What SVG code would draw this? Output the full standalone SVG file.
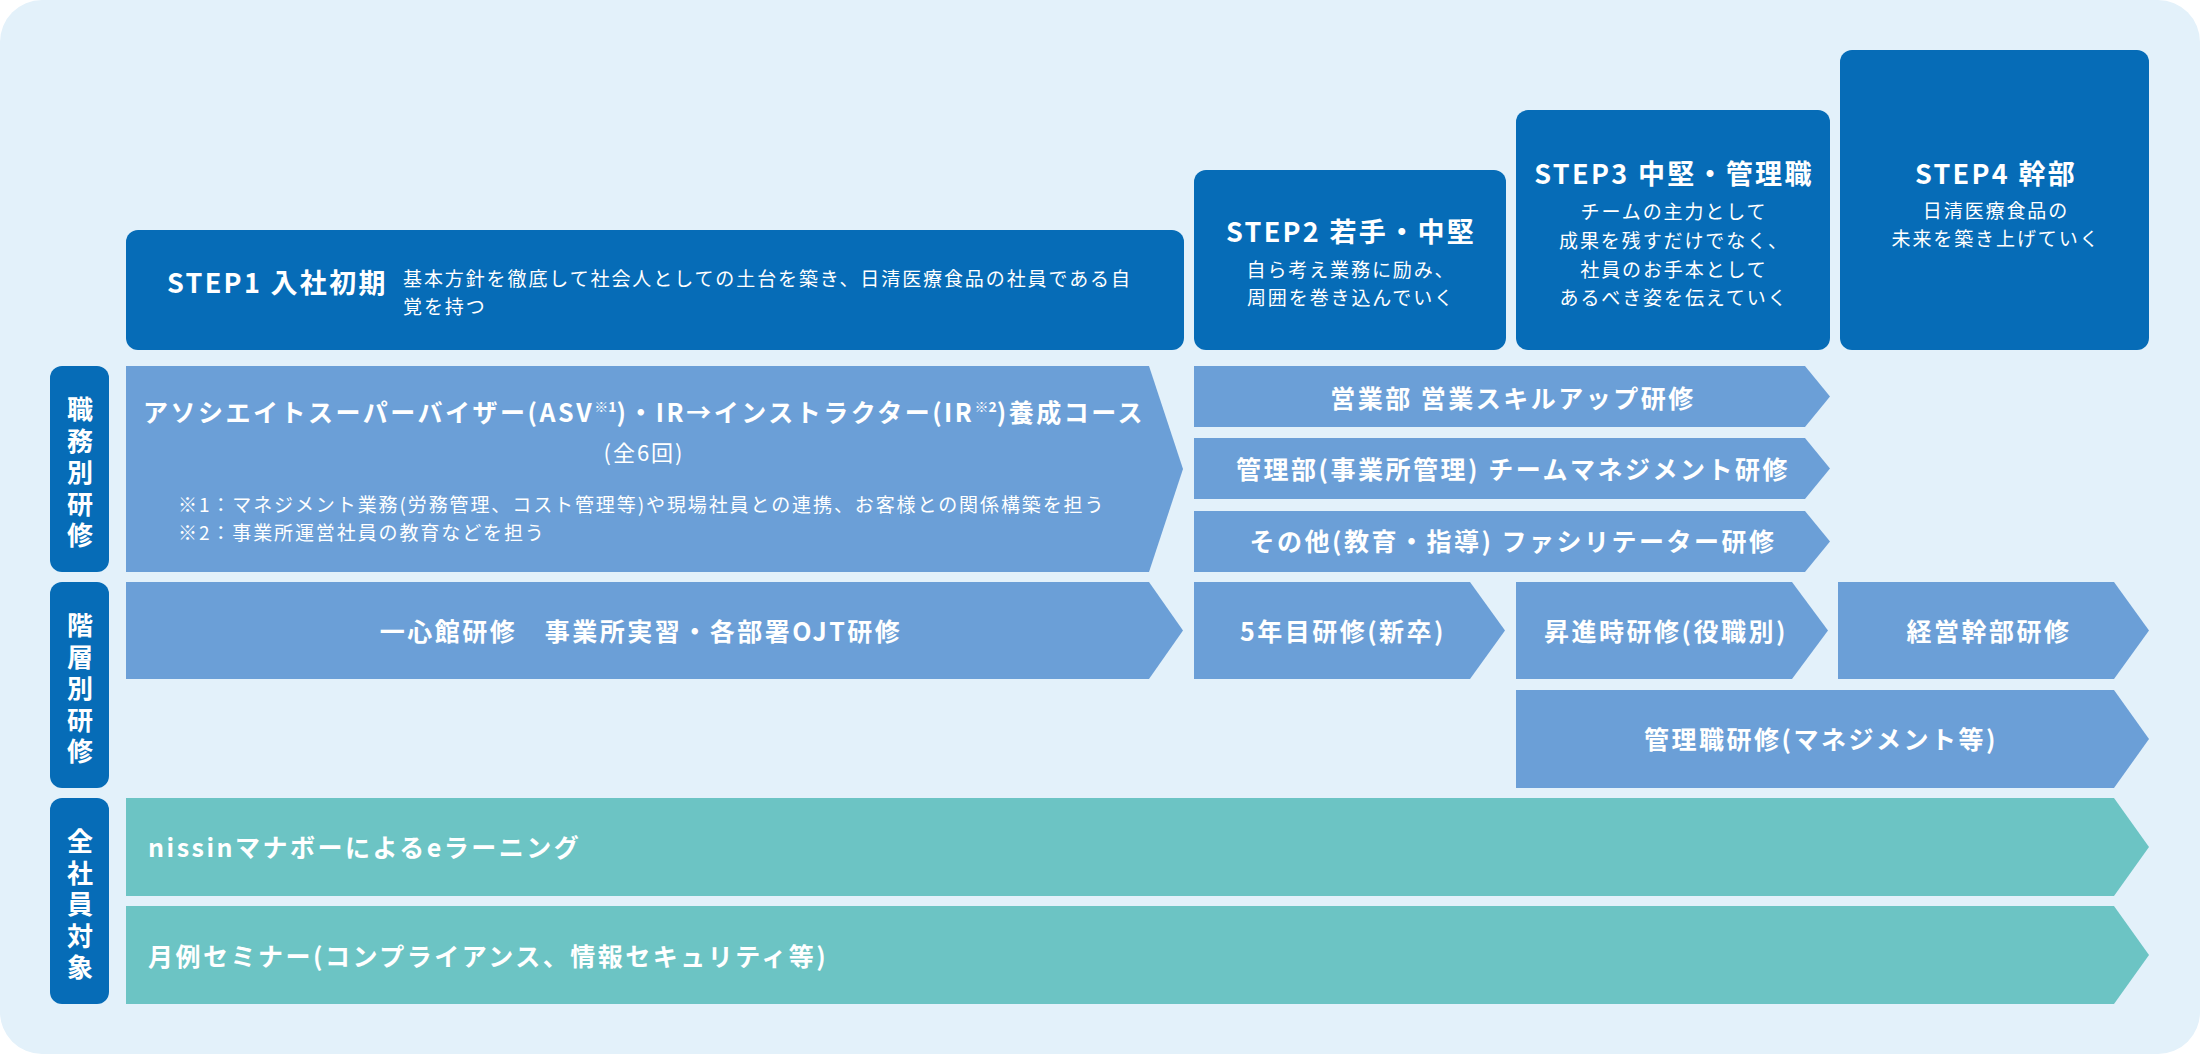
<svg xmlns="http://www.w3.org/2000/svg" width="2200" height="1054" viewBox="0 0 2200 1054">
<style>
text{font-family:"Noto Sans CJK JP","Noto Sans",sans-serif;fill:#fff}
.step{fill:#066cb7}
.cat{fill:#066cb7}
.arr{fill:#6b9fd7}
.teal{fill:#6cc4c4}
.t{font-size:27px;font-weight:700;letter-spacing:2.3px}
.d{font-size:19px;font-weight:400;letter-spacing:1.9px}
.c{font-size:26px;font-weight:700;text-anchor:middle;writing-mode:vertical-rl;letter-spacing:5.5px}
.r{font-size:25px;font-weight:700;letter-spacing:2.5px}
.m{text-anchor:middle}
.n{font-size:19px;font-weight:400;letter-spacing:1.9px}
</style>
<rect x="0" y="0" width="2200" height="1054" rx="42" fill="#e3f1fa"/>

<g id="step1">
<rect class="step" x="126" y="230" width="1058" height="120" rx="12"/>
<text class="t" x="167" y="293">STEP1 入社初期</text>
<text class="d" x="403" y="286">基本方針を徹底して社会人としての土台を築き、日清医療食品の社員である自</text>
<text class="d" x="403" y="314">覚を持つ</text>
</g>
<g id="step2">
<rect class="step" x="1194" y="170" width="312" height="180" rx="12"/>
<text class="t m" x="1351" y="242">STEP2 若手・中堅</text>
<text class="d m" x="1351" y="277">自ら考え業務に励み、</text>
<text class="d m" x="1351" y="305">周囲を巻き込んでいく</text>
</g>
<g id="step3">
<rect class="step" x="1516" y="110" width="314" height="240" rx="12"/>
<text class="t m" x="1674" y="183.5">STEP3 中堅・管理職</text>
<text class="d m" x="1674" y="219">チームの主力として</text>
<text class="d m" x="1674" y="247.5">成果を残すだけでなく、</text>
<text class="d m" x="1674" y="276.5">社員のお手本として</text>
<text class="d m" x="1674" y="305">あるべき姿を伝えていく</text>
</g>
<g id="step4">
<rect class="step" x="1840" y="50" width="309" height="300" rx="12"/>
<text class="t m" x="1996" y="183.5">STEP4 幹部</text>
<text class="d m" x="1996" y="218">日清医療食品の</text>
<text class="d m" x="1996" y="246">未来を築き上げていく</text>
</g>

<g id="cat-shokumu">
<rect class="cat" x="50" y="366" width="59" height="206" rx="12"/>
<text class="c" x="80" y="475">職務別研修</text>
</g>
<g id="cat-kaiso">
<rect class="cat" x="50" y="582" width="59" height="206" rx="12"/>
<text class="c" x="80" y="691">階層別研修</text>
</g>
<g id="cat-zensha">
<rect class="cat" x="50" y="798" width="59" height="206" rx="12"/>
<text class="c" x="80" y="907">全社員対象</text>
</g>

<g id="asv">
<polygon class="arr" points="126,366 1149,366 1183,469 1149,572 126,572"/>
<text class="r m" x="644" y="421.5" letter-spacing="2.35">アソシエイトスーパーバイザー(ASV<tspan font-size="14" dy="-10" letter-spacing="0">※1</tspan><tspan dy="10">)・IR→インストラクター(IR</tspan><tspan font-size="14" dy="-10" letter-spacing="0">※2</tspan><tspan dy="10">)養成コース</tspan></text>
<text class="m" x="644" y="461" font-size="22" letter-spacing="2">(全6回)</text>
<text class="n" x="178" y="512">※1：マネジメント業務(労務管理、コスト管理等)や現場社員との連携、お客様との関係構築を担う</text>
<text class="n" x="178" y="540">※2：事業所運営社員の教育などを担う</text>
</g>
<g id="eigyo">
<polygon class="arr" points="1194,366 1805,366 1830,396.5 1805,427 1194,427"/>
<text class="r m" x="1513" y="408">営業部 営業スキルアップ研修</text>
</g>
<g id="kanri">
<polygon class="arr" points="1194,438 1805,438 1830,468.5 1805,499 1194,499"/>
<text class="r m" x="1513" y="479">管理部(事業所管理) チームマネジメント研修</text>
</g>
<g id="sonota">
<polygon class="arr" points="1194,511 1805,511 1830,541.5 1805,572 1194,572"/>
<text class="r m" x="1513" y="551">その他(教育・指導) ファシリテーター研修</text>
</g>

<g id="isshinkan">
<polygon class="arr" points="126,582 1149,582 1183,630.5 1149,679 126,679"/>
<text class="r m" x="641" y="641">一心館研修　事業所実習・各部署OJT研修</text>
</g>
<g id="gonenme">
<polygon class="arr" points="1194,582 1470,582 1505,630.5 1470,679 1194,679"/>
<text class="r m" x="1343" y="641">5年目研修(新卒)</text>
</g>
<g id="shoshin">
<polygon class="arr" points="1516,582 1792,582 1828,630.5 1792,679 1516,679"/>
<text class="r m" x="1666" y="641">昇進時研修(役職別)</text>
</g>
<g id="keiei">
<polygon class="arr" points="1838,582 2114,582 2149,630.5 2114,679 1838,679"/>
<text class="r m" x="1989" y="641">経営幹部研修</text>
</g>
<g id="kanrishoku">
<polygon class="arr" points="1516,690 2114,690 2149,739 2114,788 1516,788"/>
<text class="r m" x="1821" y="749">管理職研修(マネジメント等)</text>
</g>

<g id="elearning">
<polygon class="teal" points="126,798 2114,798 2149,847 2114,896 126,896"/>
<text class="r" x="148" y="857">nissinマナボーによるeラーニング</text>
</g>
<g id="seminar">
<polygon class="teal" points="126,906 2114,906 2149,955 2114,1004 126,1004"/>
<text class="r" x="148" y="966">月例セミナー(コンプライアンス、情報セキュリティ等)</text>
</g>
<g id="connectors"/>
</svg>
